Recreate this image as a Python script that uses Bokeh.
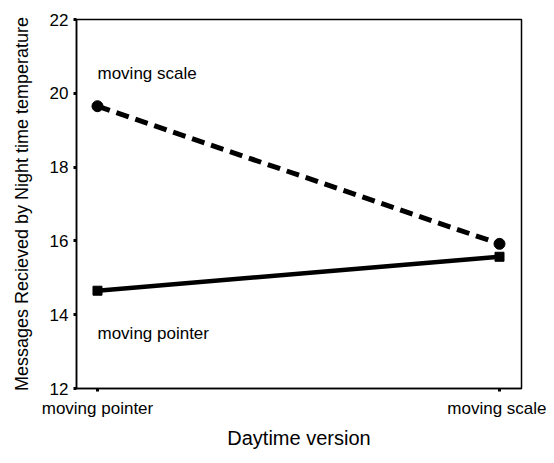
from bokeh.plotting import figure
from bokeh.models import Range1d, FixedTicker, ColumnDataSource
from bokeh.core.properties import value
from bokeh.embed import file_html
from bokeh.resources import INLINE

categories = ["moving pointer", "moving scale"]
x_pos = [0, 1]
scale_values = [19.65, 15.92]
pointer_values = [14.65, 15.57]
y_ticks = [12, 14, 16, 18, 20, 22]
series_labels = ["moving scale", "moving pointer"]
label_y = [20.54, 13.5]

FONT = "Liberation Sans"

p = figure(width=546, height=455, output_backend="svg", toolbar_location=None,
           x_range=Range1d(-0.0522, 1.0547), y_range=Range1d(12, 22),
           min_border_left=76, min_border_right=25, min_border_top=19,
           min_border_bottom=67)
p.background_fill_color = "white"
p.border_fill_color = "white"
p.outline_line_color = "black"
p.outline_line_width = 1.5
p.xgrid.visible = False
p.ygrid.visible = False

# series
p.line(x_pos, scale_values, line_color="black", line_width=5, line_dash="13 7")
p.scatter(x_pos, scale_values, marker="circle", size=11, fill_color="black", line_color="black")
p.line(x_pos, pointer_values, line_color="black", line_width=4.5)
p.scatter(x_pos, pointer_values, marker="square", size=9, fill_color="black", line_color="black")

src = ColumnDataSource(dict(x=[0, 0], y=label_y, t=series_labels))
p.text(x="x", y="y", text="t", source=src, text_align="left", text_baseline="middle",
       text_font=value(FONT), text_font_size="17px", text_color="black")

# axes
p.xaxis.ticker = FixedTicker(ticks=x_pos)
p.xaxis.major_label_overrides = {x: c for x, c in zip(x_pos, categories)}
p.yaxis.ticker = FixedTicker(ticks=y_ticks)
for ax in (p.xaxis[0], p.yaxis[0]):
    ax.axis_line_color = "black"
    ax.axis_line_width = 1.5
    ax.major_tick_line_color = "black"
    ax.major_tick_line_width = 3
    ax.major_tick_out = 3
    ax.major_tick_in = 0
    ax.minor_tick_line_color = None
    ax.major_label_text_font = FONT
    ax.major_label_text_font_size = "17px"
    ax.major_label_text_color = "black"
    ax.axis_label_text_font = FONT
    ax.axis_label_text_font_style = "normal"
    ax.axis_label_text_color = "black"

p.xaxis.axis_label = "Daytime version"
p.xaxis.axis_label_text_font_size = "20px"
p.xaxis.major_label_standoff = 7
p.xaxis.axis_label_standoff = 6
p.yaxis.axis_label = "Messages Recieved by Night time temperature"
p.yaxis.axis_label_text_font_size = "18px"
p.yaxis.major_label_standoff = 5
p.yaxis.axis_label_standoff = 15

open("out.html", "w").write(file_html(p, INLINE))
